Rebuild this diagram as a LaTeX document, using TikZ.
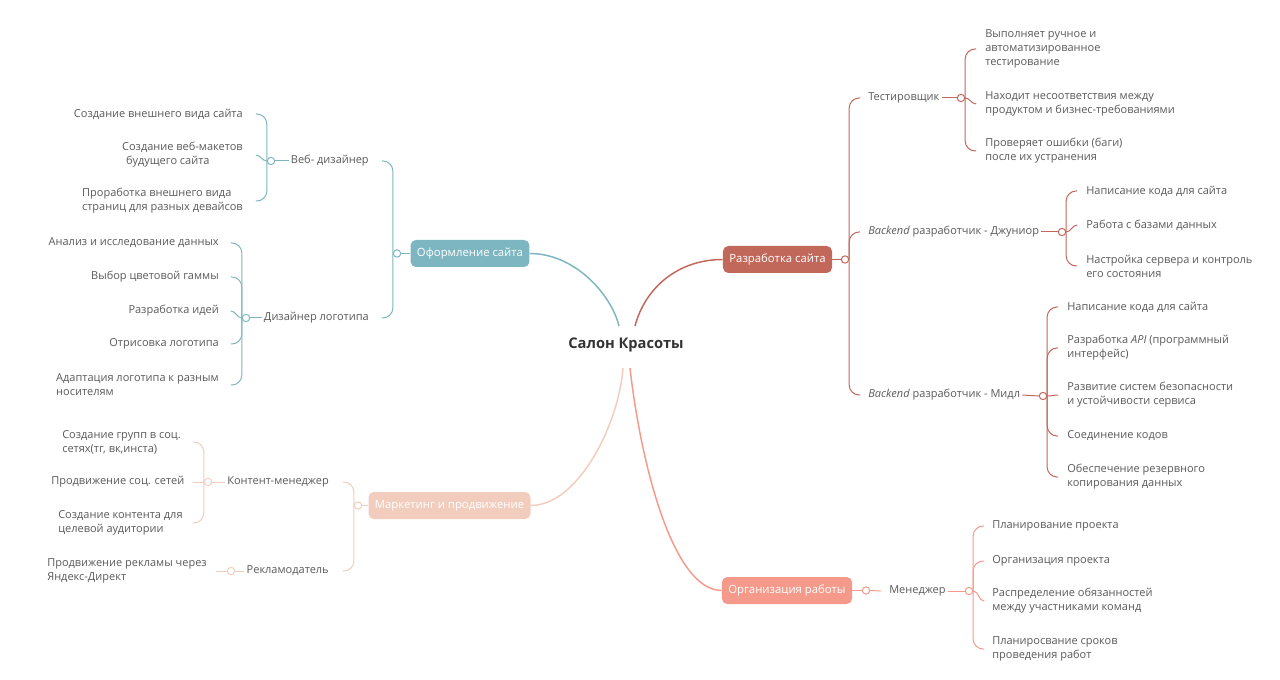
\documentclass[tikz,border=0pt]{standalone}
\usepackage{fontspec}
\setmainfont{Open Sans}
\usetikzlibrary{calc}
\definecolor{tealc}{HTML}{7DB6C0}
\definecolor{redc}{HTML}{C2685B}
\definecolor{peachc}{HTML}{F2CDBD}
\definecolor{salmc}{HTML}{F59A8B}
\definecolor{txtc}{HTML}{5A5A5A}
\definecolor{titc}{HTML}{333333}
\newcommand\brL[2]{\draw (#1.west) |- ($(#2.east -| #1.west)+(-11,0)$);}
\newcommand\brR[2]{\draw (#1.east) |- ($(#2.west -| #1.east)+(11,0)$);}
\newcommand\mdL[2]{\draw (#1.west) to[out=180,in=0] ($(#2.east -| #1.west)+(-11,0)$);}
\newcommand\mdR[2]{\draw (#1.east) to[out=0,in=180] ($(#2.west -| #1.east)+(11,0)$);}
\tikzset{
  txt/.style={font=\fontsize{8.25}{10.5}\selectfont, text=txtc, inner sep=1.5pt, align=left},
  lt/.style={txt, anchor=east},
  rt/.style={txt, anchor=west},
  jc/.style={circle, draw=#1, fill=white, line width=0.75pt, minimum size=5.5pt, inner sep=0pt},
  mbox/.style={rounded corners=4pt, fill=#1, text=white, font=\fontsize{8.5}{10}\selectfont,
    minimum height=20.25pt, inner xsep=4.8pt},
  brs/.style={draw=#1, line width=0.75pt, rounded corners=7.5pt},
  mainc/.style={draw=#1, line width=1.1pt}
}
\begin{document}
\begin{tikzpicture}[x=0.75pt, y=-0.75pt]
\fill[white] (0,0) rectangle (1280,680);
\useasboundingbox (0,0) rectangle (1280,680);

% centre
\node[font=\fontsize{11}{13}\selectfont\bfseries, text=titc, inner sep=1pt] (center) at (626,345) {Салон Красоты};
\coordinate (cT) at ($(center.center)+(-7,-19)$);
\coordinate (cR) at ($(center.center)+(9,-19)$);
\coordinate (cP) at ($(center.center)+(-3,23)$);
\coordinate (cS) at ($(center.center)+(4,23)$);

% main boxes
\node[mbox=tealc] (b1) at (470,253.5) {Оформление сайта};
\node[mbox=redc] (b2) at (777.5,259.5) {Разработка сайта};
\node[mbox=peachc] (b3) at (449.5,505.5) {Маркетинг и продвижение};
\node[mbox=salmc] (b4) at (787,590.5) {Организация работы};

% ---------- teal branch ----------
\node[lt] (web) at (371,161) {Веб- дизайнер};
\node[lt] (logo) at (371,318) {Дизайнер логотипа};
\node[lt] (w1) at (245,114) {Создание внешнего вида сайта};
\node[lt] (w2) at (245,155) {Создание веб-макетов\\\hspace*{3pt}будущего сайта};
\node[lt] (w3) at (245,201) {Проработка внешнего вида\\страниц для разных девайсов};
\node[lt] (l1) at (221,243) {Анализ и исследование данных};
\node[lt] (l2) at (221,277) {Выбор цветовой гаммы};
\node[lt] (l3) at (221,311) {Разработка идей};
\node[lt] (l4) at (221,344) {Отрисовка логотипа};
\node[lt] (l5) at (221,385) {Адаптация логотипа к разным\\носителям};

% ---------- peach branch ----------
\node[lt] (kont) at (331,482) {Контент-менеджер};
\node[lt] (rekl) at (331,571) {Рекламодатель};
\node[rt] (k1) at (60,442) {Создание групп в соц.\\сетях(тг, вк,инста)};
\node[rt] (k2) at (49,482) {Продвижение соц. сетей};
\node[rt] (k3) at (56,523) {Создание контента для\\целевой аудитории};
\node[rt] (r1) at (45,571) {Продвижение рекламы через\\Яндекс-Директ};

% ---------- red branch ----------
\node[rt] (test) at (866,98) {Тестировщик};
\node[rt] (jun) at (866,232) {\textit{Backend} разработчик - Джуниор};
\node[rt] (mid) at (866,395) {\textit{Backend} разработчик - Мидл};
\node[rt] (t1) at (983,49) {Выполняет ручное и\\автоматизированное\\тестирование};
\node[rt] (t2) at (983,104) {Находит несоответствия между\\продуктом и бизнес-требованиями};
\node[rt] (t3) at (983,151) {Проверяет ошибки (баги)\\после их устранения};
\node[rt] (j1) at (1084,191) {Написание кода для сайта};
\node[rt] (j2) at (1084,225) {Работа с базами данных};
\node[rt] (j3) at (1084,266) {Настройка сервера и контроль\\его состояния};
\node[rt] (m1) at (1065,307) {Написание кода для сайта};
\node[rt] (m2) at (1065,348) {Разработка \textit{API} (программный\\интерфейс)};
\node[rt] (m3) at (1065,395) {Развитие систем безопасности\\и устойчивости сервиса};
\node[rt] (m4) at (1065,436) {Соединение кодов};
\node[rt] (m5) at (1065,477) {Обеспечение резервного\\копирования данных};

% ---------- salmon branch ----------
\node[rt] (men) at (887,591) {Менеджер};
\node[rt] (n1) at (990,526) {Планирование проекта};
\node[rt] (n2) at (990,561) {Организация проекта};
\node[rt] (n3) at (990,601) {Распределение обязанностей\\между участниками команд};
\node[rt] (n4) at (990,649) {Планиросвание сроков\\проведения работ};

% junction circles
\node[jc=tealc] (jT) at (397,253.5) {};
\node[jc=tealc] (jW) at (271,161) {};
\node[jc=tealc] (jL) at (246,318) {};
\node[jc=peachc] (jM) at (358,505.5) {};
\node[jc=peachc] (jK) at (208,482) {};
\node[jc=peachc] (jR) at (231,571) {};
\node[jc=redc] (jD) at (845,259.5) {};
\node[jc=redc] (jTe) at (961,98) {};
\node[jc=redc] (jJ) at (1062,232) {};
\node[jc=redc] (jMi) at (1043,396) {};
\node[jc=salmc] (jO) at (866,590.5) {};
\node[jc=salmc] (jMe) at (969,591) {};

% main connectors
\draw[mainc=tealc] (b1.east) .. controls +(45,0) and +(-8,-32) .. (cT);
\draw[mainc=redc] (cR) .. controls +(10,-38) and +(-45,0) .. (b2.west);
\draw[mainc=peachc] (b3.east) .. controls +(48,0) and +(-4,55) .. (cP);
\draw[mainc=salmc] (cS) .. controls +(10,90) and +(-50,0) .. (b4.west);

% teal connectors
\begin{scope}[brs=tealc]
\draw (b1.west) -- (jT.east);
\brL{jT}{web} \brL{jT}{logo}
\draw (web.west) -- (jW.east);
\brL{jW}{w1} \mdL{jW}{w2} \brL{jW}{w3}
\draw (logo.west) -- (jL.east);
\brL{jL}{l1} \brL{jL}{l2} \mdL{jL}{l3} \brL{jL}{l4} \brL{jL}{l5}
\end{scope}

% peach connectors
\begin{scope}[brs=peachc]
\draw (b3.west) -- (jM.east);
\brL{jM}{kont} \brL{jM}{rekl}
\draw (kont.west) -- (jK.east);
\brL{jK}{k1} \draw (jK.west) -- ($(k2.east -| jK.west)+(-11,0)$); \brL{jK}{k3}
\draw (rekl.west) -- (jR.east);
\draw (jR.west) -- ($(r1.east -| jR.west)+(-11,0)$);
\end{scope}

% red connectors
\begin{scope}[brs=redc]
\draw (b2.east) -- (jD.west);
\brR{jD}{test} \brR{jD}{jun} \brR{jD}{mid}
\draw (test.east) -- (jTe.west);
\brR{jTe}{t1} \mdR{jTe}{t2} \brR{jTe}{t3}
\draw (jun.east) -- (jJ.west);
\brR{jJ}{j1} \mdR{jJ}{j2} \brR{jJ}{j3}
\draw (mid.east) -- (jMi.west);
\brR{jMi}{m1} \brR{jMi}{m2} \mdR{jMi}{m3} \brR{jMi}{m4} \brR{jMi}{m5}
\end{scope}

% salmon connectors
\begin{scope}[brs=salmc]
\draw (b4.east) -- (jO.west);
\draw (jO.east) -- ($(men.west -| jO.east)+(11,0)$);
\draw (men.east) -- (jMe.west);
\brR{jMe}{n1} \brR{jMe}{n2} \mdR{jMe}{n3} \brR{jMe}{n4}
\end{scope}
\end{tikzpicture}
\end{document}
